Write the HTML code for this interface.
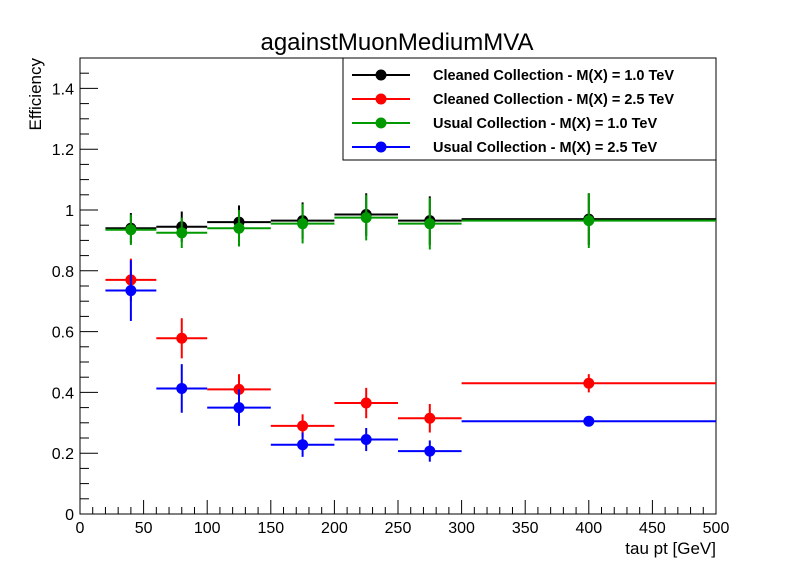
<!DOCTYPE html>
<html><head><meta charset="utf-8"><style>
body{margin:0;background:#fff}
svg{display:block;font-family:"Liberation Sans",sans-serif}
</style></head><body>
<svg id="c" width="796" height="572" viewBox="0 0 796 572">
<rect width="796" height="572" fill="#fff"/>
<text x="397" y="50" text-anchor="middle" font-size="24">againstMuonMediumMVA</text>
<rect x="80" y="58" width="636" height="456" fill="none" stroke="#000" stroke-width="1"/>
<g id="axes"></g>
<g id="series"></g>
<text x="716" y="554" text-anchor="end" font-size="17">tau pt [GeV]</text>
<text transform="translate(41,58) rotate(-90)" text-anchor="end" font-size="17">Efficiency</text>
<g>
<rect x="343" y="58" width="373" height="102" fill="#fff" stroke="#000" stroke-width="1"/>
<g id="legend"></g>
</g>
</svg>
<script>
const binLo=[20,60,100,150,200,250,300];
const binHi=[60,100,150,200,250,300,500];
const centers=[40,80,125,175,225,275,400];
const blackVals=[0.94,0.945,0.96,0.965,0.985,0.965,0.97];
const blackErr=[0.05,0.05,0.055,0.06,0.07,0.08,0.085];
const redVals=[0.77,0.578,0.41,0.29,0.365,0.315,0.43];
const redErr=[0.07,0.066,0.05,0.038,0.05,0.047,0.03];
const greenVals=[0.935,0.925,0.94,0.955,0.975,0.955,0.965];
const greenErr=[0.05,0.05,0.06,0.065,0.075,0.085,0.09];
const blueVals=[0.735,0.413,0.35,0.228,0.245,0.207,0.305];
const blueErr=[0.1,0.08,0.06,0.04,0.038,0.035,0.015];
const xTicks=[0,50,100,150,200,250,300,350,400,450,500];
const yTicks=[0,0.2,0.4,0.6,0.8,1,1.2,1.4];
const yTickLabels=["0","0.2","0.4","0.6","0.8","1","1.2","1.4"];
const seriesNames=["Cleaned Collection - M(X) = 1.0 TeV","Cleaned Collection - M(X) = 2.5 TeV","Usual Collection - M(X) = 1.0 TeV","Usual Collection - M(X) = 2.5 TeV"];

const NS="http://www.w3.org/2000/svg";
const X=v=>80+v*636/500;
const Y=v=>514-v*456/1.5;
function mk(tag,attrs,parent){const e=document.createElementNS(NS,tag);for(const k in attrs)e.setAttribute(k,attrs[k]);parent.appendChild(e);return e;}
const axes=document.getElementById('axes');
for(let v=0;v<=500;v+=10){const major=v%50===0;
 const t=mk('line',{x1:X(v),x2:X(v),y1:514,y2:514-(major?14:7),stroke:'#000','stroke-width':1},axes);
 
 }
xTicks.forEach(v=>{const t=mk('text',{x:X(v),y:533,'text-anchor':'middle','font-size':16},axes);t.textContent=v;
 
 });
for(let i=0;i<=30;i++){const v=i*0.05;const major=i%4===0;
 const t=mk('line',{x1:80,x2:80+(major?18:9),y1:Y(v),y2:Y(v),stroke:'#000','stroke-width':1},axes);
 
 }
yTicks.forEach((v,i)=>{const t=mk('text',{x:74,y:Y(v)+6,'text-anchor':'end','font-size':16},axes);t.textContent=yTickLabels[i];
 
 });
const ser=document.getElementById('series');
const defs=[[blackVals,blackErr,'#000','black'],[redVals,redErr,'#f00','red'],[greenVals,greenErr,'#090','green'],[blueVals,blueErr,'#00f','blue']];
function drawSeries(vals,err,col,nm){
 const g=mk('g',{},ser);
 
 
 vals.forEach((v,i)=>{
  const h=mk('line',{x1:X(binLo[i]),x2:X(binHi[i]),y1:Y(v),y2:Y(v),stroke:col,'stroke-width':2},g);
  
  
  const e=mk('line',{x1:X(centers[i]),x2:X(centers[i]),y1:Y(v+err[i]),y2:Y(v-err[i]),stroke:col,'stroke-width':2},g);
  
  
  const c=mk('circle',{cx:X(centers[i]),cy:Y(v),r:5.5,fill:col},g);
  
  
 });
}
[1,3,0,2].forEach(k=>drawSeries(...defs[k]));
const lg=document.getElementById('legend');
seriesNames.forEach((n,i)=>{const y=75+i*24;const col=defs[i][2];
 const g=mk('g',{},lg);
 
 
 mk('line',{x1:352,x2:410,y1:y,y2:y,stroke:col,'stroke-width':2},g);
 mk('circle',{cx:381,cy:y,r:5.5,fill:col},g);
 const t=mk('text',{x:433,y:y+5,'font-size':14.5,'font-weight':'bold'},g);t.textContent=n;});
</script>
</body></html>
